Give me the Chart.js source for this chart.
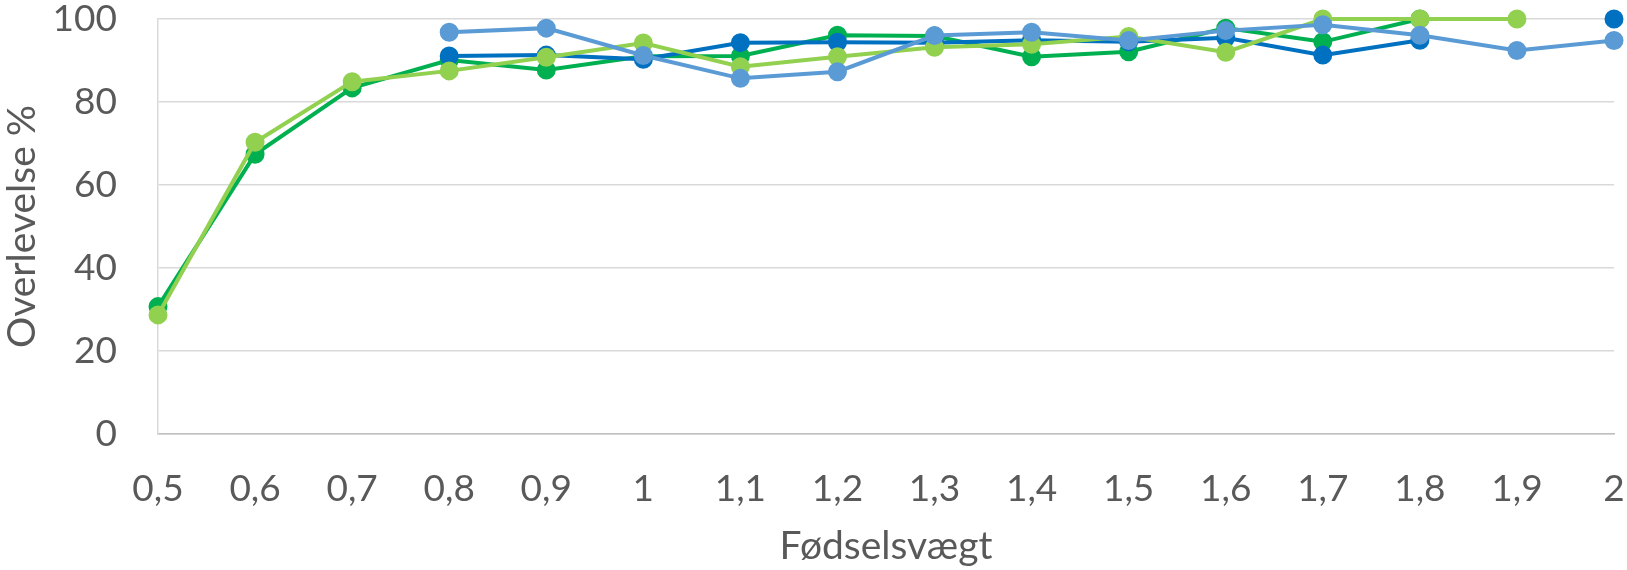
<!DOCTYPE html>
<html>
<head>
<meta charset="utf-8">
<script src="https://cdn.jsdelivr.net/npm/chart.js@4"></script>
<style>
  html, body { margin: 0; padding: 0; background: #fff; }
  #wrap { width: 1627px; height: 570px; }
</style>
</head>
<body>
<div id="wrap"><canvas id="chart"></canvas></div>
<script>
const weights = ["0,5", "0,6", "0,7", "0,8", "0,9", "1", "1,1", "1,2", "1,3", "1,4", "1,5", "1,6", "1,7", "1,8", "1,9", "2"];

const darkBlue = [null, null, null, 91.1, 91.3, 90.3, 94.3, 94.4, 94.3, 94.9, 94.5, 95.5, 91.3, 94.9, null, 100];
const darkGreen = [30.7, 67.4, 83.4, 90.1, 87.7, 91.0, 91.1, 96.1, 95.9, 90.9, 92.1, 97.8, 94.5, 100, null, null];
const lightGreen = [28.7, 70.3, 84.9, 87.5, 90.8, 94.2, 88.5, 90.9, 93.2, 93.9, 95.8, 92.0, 100, 100, 100, null];
const lightBlue = [null, null, null, 96.8, 97.8, 91.2, 85.7, 87.3, 96.0, 96.8, 94.8, 97.2, 98.6, 96.1, 92.4, 94.8];

const yTicks = [0, 20, 40, 60, 80, 100];

function series(label, data, color) {
  return {
    label: label,
    data: data,
    borderColor: color,
    backgroundColor: color,
    pointBackgroundColor: color,
    pointBorderColor: color,
    borderWidth: 4,
    pointRadius: 7.5,
    pointHoverRadius: 7.5,
    tension: 0,
    spanGaps: false,
    clip: false
  };
}

const tickFont = { family: "Lato, 'Open Sans', sans-serif", size: 37 };
const titleFont = { family: "Lato, 'Open Sans', sans-serif", size: 39, lineHeight: 1 };
const grey = "#595959";

new Chart(document.getElementById("chart"), {
  type: "line",
  data: {
    labels: weights,
    datasets: [
      series("Serie 4", lightBlue, "#5B9BD5"),
      series("Serie 3", lightGreen, "#92D050"),
      series("Serie 1", darkBlue, "#0070C0"),
      series("Serie 2", darkGreen, "#00B050")
    ]
  },
  options: {
    responsive: true,
    maintainAspectRatio: false,
    animation: false,
    layout: { padding: { top: 19, right: 13, left: 0, bottom: 0 } },
    plugins: {
      legend: { display: false },
      tooltip: { enabled: false }
    },
    scales: {
      x: {
        offset: false,
        grid: { display: false, drawTicks: false },
        border: { display: true, color: "#BFBFBF", width: 1.5 },
        ticks: { color: grey, font: tickFont, padding: 33, maxRotation: 0, autoSkip: false },
        title: { display: true, text: "Fødselsvægt", color: grey, font: titleFont, padding: { top: 0, bottom: 4 } },
        afterFit: function (scale) {
          scale.height = 136;
          scale.paddingLeft = 0;
          scale.paddingRight = 0;
        }
      },
      y: {
        min: 0,
        max: 100,
        afterBuildTicks: function (scale) { scale.ticks = yTicks.map(v => ({ value: v })); },
        grid: { color: "#D9D9D9", lineWidth: 1.5, drawTicks: false },
        border: { display: true, color: "#D9D9D9", width: 1.5 },
        ticks: { color: grey, font: tickFont, padding: 41 },
        title: { display: true, text: "Overlevelse %", color: grey, font: titleFont, padding: { top: 3, bottom: 0 } },
        afterFit: function (scale) {
          scale.width = 158;
          scale.paddingTop = 0;
          scale.paddingBottom = 0;
        }
      }
    }
  }
});
</script>
</body>
</html>
